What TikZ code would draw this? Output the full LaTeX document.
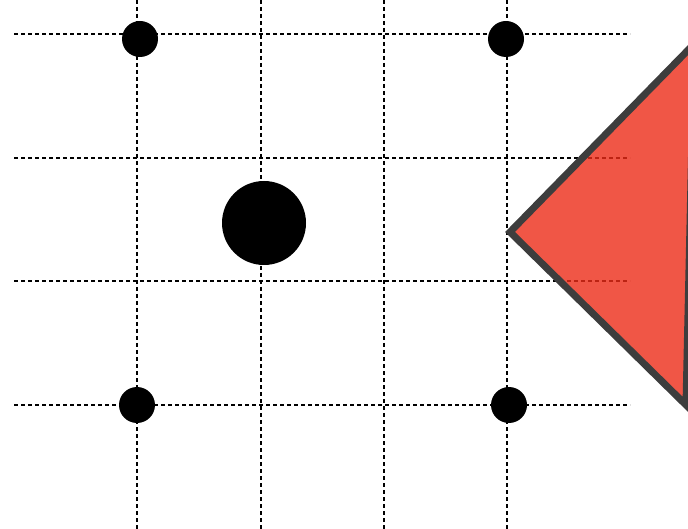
\documentclass[tikz,border=0pt]{standalone}
\usepackage{tikz}
\usetikzlibrary{positioning}
\definecolor{mRed}{RGB}{236,44,24}
\definecolor{mGrey}{HTML}{3D3D3D}

\begin{document}
\begin{tikzpicture}[x=1pt, y=-1pt,
    gridline/.style={black, line width=1.8pt, dash pattern=on 4pt off 3pt},
    dot/.style={circle, fill=black, inner sep=0pt, minimum size=36pt},
    bigdot/.style={circle, fill=black, inner sep=0pt, minimum size=84pt}]
    \useasboundingbox (0,0) rectangle (688,529);
    \clip (0,0) rectangle (688,529);
    % grid
    \foreach \y in {34,158,281,405}
      \draw[gridline] (14,\y) -- (630,\y);
    \foreach \x in {137,261,384,507}
      \draw[gridline] (\x,0) -- (\x,529);
    % dots
    \node[dot] (tl) at (140,39) {};
    \node[dot] (tr) at (506,39) {};
    \node[dot] (bl) at (137,405) {};
    \node[dot] (br) at (509,405) {};
    \node[bigdot] (mid) at (264,223) {};
    % triangle
    \draw[line width=7pt, line join=miter, draw=mGrey, fill=mRed, fill opacity=0.8]
      (510,232) -- (694,44) -- (686,405) -- cycle;
  \end{tikzpicture}
\end{document}
